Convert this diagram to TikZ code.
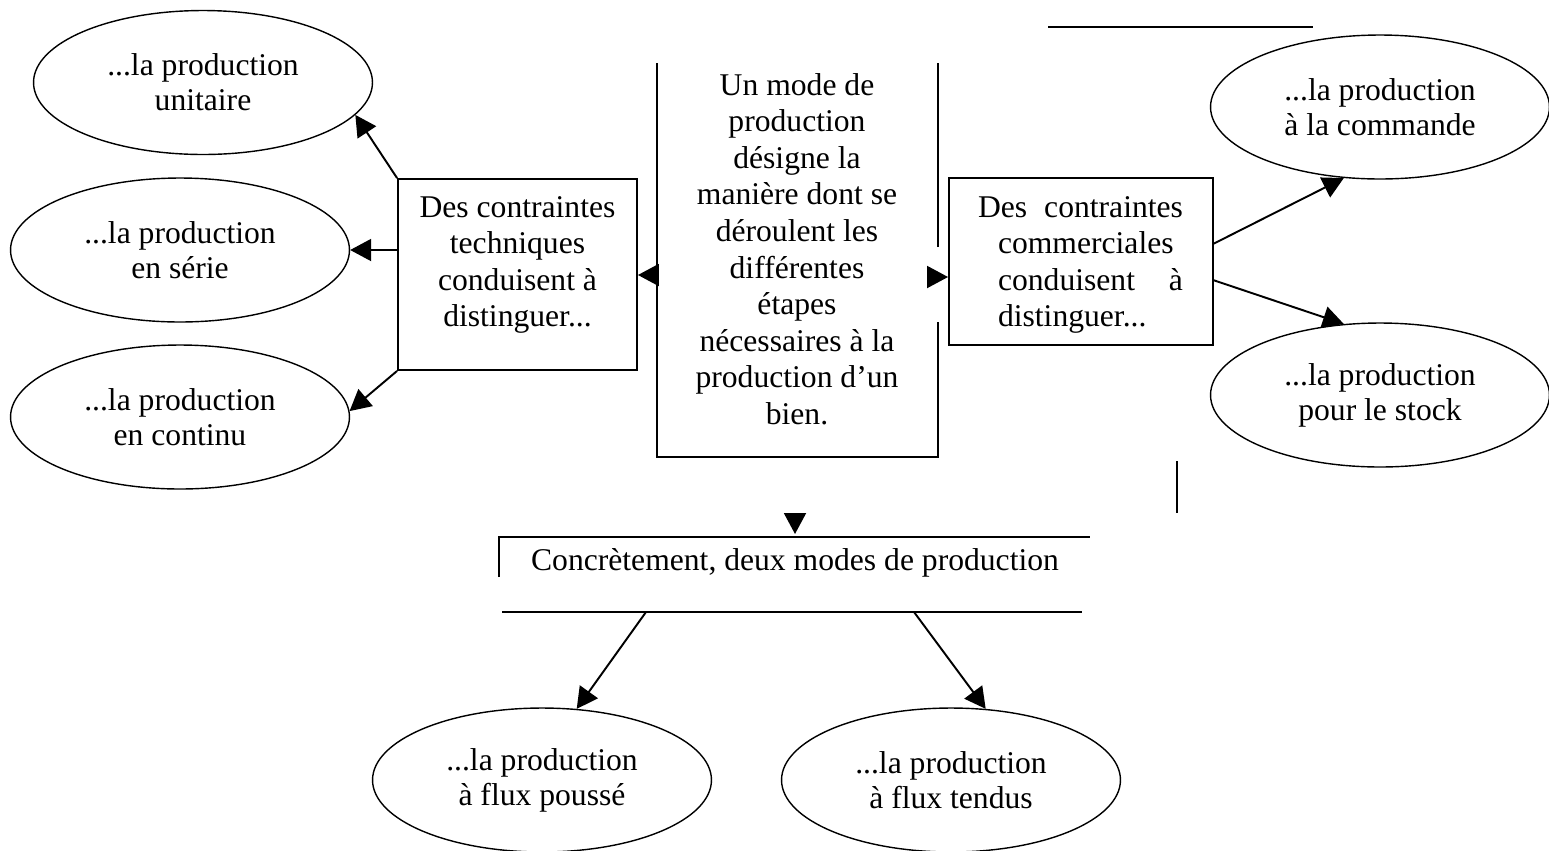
\documentclass[tikz,border=0pt]{standalone}
\usepackage{fontspec}
\setmainfont{Liberation Serif}
\usetikzlibrary{arrows.meta,shapes.geometric}
\begin{document}
\begin{tikzpicture}[x=0.02cm,y=-0.02cm,
  ln/.style={line width=1.1pt},
  arr/.style={line width=1.1pt,-{Triangle[length=0.42cm,width=0.44cm]}},
  ell/.style={draw,ellipse,line width=0.8pt,inner sep=0pt,
    minimum width=6.78cm,minimum height=2.88cm,align=center,
    font=\fontsize{18}{19.9}\selectfont},
  txt/.style={align=center,inner sep=0pt,font=\fontsize{18}{20.8}\selectfont},
  boxn/.style={draw,line width=1.1pt,inner sep=0pt}
]
\useasboundingbox (0,0) rectangle (1549,850);

% ellipses
\node[ell] (E1) at (203,82.5) {...la production\\unitaire};
\node[ell] (E2) at (180,250) {...la production\\en série};
\node[ell] (E3) at (180,417) {...la production\\en continu};
\node[ell] (Com) at (1380,107) {...la production\\à la commande};
\node[ell] (Sto) at (1380,395) {...la production\\pour le stock};
\node[ell] (Pou) at (542,780) {...la production\\à flux poussé};
\node[ell] (Ten) at (951,780) {...la production\\à flux tendus};

% technical box
\node[boxn,minimum width=4.78cm,minimum height=3.82cm] (tech) at (517.5,274.5) {};
\node[txt] (techtxt) at (517.5,265) {Des contraintes\\techniques\\conduisent à\\distinguer...};

% commercial box
\node[boxn,minimum width=5.28cm,minimum height=3.34cm] (comm) at (1081,261.5) {};
\node[txt,align=left,text width=4.1cm] (commtxt) at (1080.5,265)
  {\makebox[4.1cm][s]{Des\hfill contraintes}\\
   \hspace*{0.4cm}commerciales\\
   \hspace*{0.4cm}\makebox[3.7cm][s]{conduisent\hfill à}\\
   \hspace*{0.4cm}distinguer...};

% central box (open top, gap on right)
\node[txt] (centre) at (797,249) {Un mode de\\production\\désigne la\\manière dont se\\déroulent les\\différentes\\étapes\\nécessaires à la\\production d’un\\bien.};
\coordinate (ctl) at (657,63);
\coordinate (cbl) at (657,457);
\coordinate (cbr) at (938,457);
\coordinate (cgl) at (938,322);
\coordinate (cgh) at (938,247);
\coordinate (ctr) at (938,63);
\draw[ln] (ctl) -- (cbl) -- (cbr) -- (cgl);
\draw[ln] (cgh) -- (ctr);

% arrows from central box
\coordinate (cl) at (657,275);
\draw[arr] (cl) -- (cl -| tech.east);
\coordinate (cr) at (928,277);
\draw[arr] (cr) -- (cr -| comm.west);

% technical arrows
\draw[arr] (tech.north west) -- (E1.-12);
\draw[arr] (E2.east -| tech.west) -- (E2.east);
\draw[arr] (tech.south west) -- (E3.2);

% commercial arrows
\coordinate (cm1) at (1213,244);
\coordinate (cm2) at (1213,280);
\draw[arr] (cm1) -- (Com.-117);
\draw[arr] (cm2) -- (Sto.117);

% Concretement box (broken)
\node[txt] (concret) at (795,563) {Concrètement, deux modes de production};
\coordinate (kt1) at (499,537);
\coordinate (kt2) at (1090,537);
\coordinate (kl) at (499,577);
\coordinate (kb1) at (502,612);
\coordinate (kb2) at (1082,612);
\draw[ln] (kl) -- (kt1) -- (kt2);
\draw[ln] (kb1) -- (kb2);
\coordinate (dn1) at (795,513);
\coordinate (dn2) at (795,534);
\draw[arr] (dn1) -- (dn2);

% bottom arrows
\coordinate (b1) at (646,612);
\coordinate (b2) at (914,612);
\draw[arr] (b1) -- (Pou.64);
\draw[arr] (b2) -- (Ten.64);

% stray lines
\coordinate (s1) at (1048,27);
\coordinate (s2) at (1313,27);
\draw[ln] (s1) -- (s2);
\coordinate (s3) at (1177,461);
\coordinate (s4) at (1177,513);
\draw[ln] (s3) -- (s4);
\end{tikzpicture}
\end{document}
